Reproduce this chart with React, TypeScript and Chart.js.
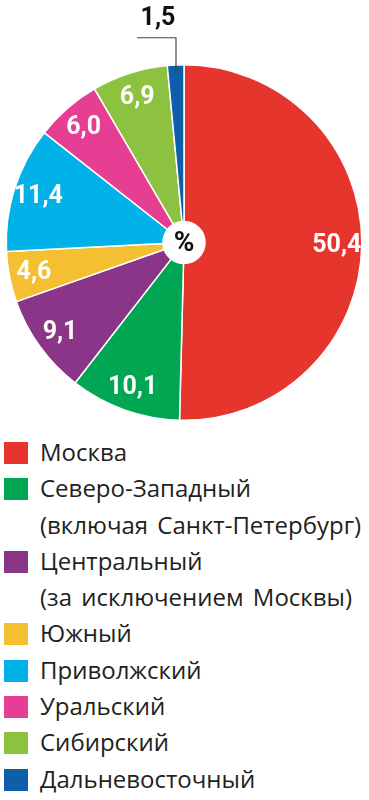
import React, { useEffect, useRef } from "react";
import { Chart, registerables } from "chart.js";

Chart.register(...registerables);

// ---- Data ----
const categories = [
  "Москва",
  "Северо-Западный (включая Санкт-Петербург)",
  "Центральный (за исключением Москвы)",
  "Южный",
  "Приволжский",
  "Уральский",
  "Сибирский",
  "Дальневосточный",
];
const legendLines: string[][] = [
  ["Москва"],
  ["Северо-Западный", "(включая Санкт-Петербург)"],
  ["Центральный", "(за исключением Москвы)"],
  ["Южный"],
  ["Приволжский"],
  ["Уральский"],
  ["Сибирский"],
  ["Дальневосточный"],
];
const values = [50.4, 10.1, 9.1, 4.6, 11.4, 6.0, 6.9, 1.5];
const colors = [
  "#e5352d",
  "#00a651",
  "#8b3589",
  "#f5bf32",
  "#00b2e8",
  "#e63e92",
  "#8dc241",
  "#0e5fa9",
];
const outsideLabels = [7];
const centerLabel = "%";

const fmt = (v: number) => v.toFixed(1).replace(".", ",");

const labelPlugin = {
  id: "sliceLabels",
  afterDatasetsDraw(chart: any) {
    const ctx = chart.ctx as CanvasRenderingContext2D;
    const meta = chart.getDatasetMeta(0);
    ctx.save();
    ctx.textAlign = "center";
    ctx.textBaseline = "middle";
    ctx.font = "bold 25px Roboto";
    let cx = 0,
      cy = 0;
    meta.data.forEach((arc: any, i: number) => {
      const p = arc.getProps(["x", "y", "startAngle", "endAngle", "outerRadius"], true);
      cx = p.x;
      cy = p.y;
      const mid = (p.startAngle + p.endAngle) / 2;
      const text = fmt(values[i]);
      if (outsideLabels.includes(i)) {
        const r0 = p.outerRadius - 8;
        const px = p.x + Math.cos(mid) * r0;
        const py = p.y + Math.sin(mid) * r0;
        const elbowY = p.y - p.outerRadius - 27;
        ctx.strokeStyle = "#444";
        ctx.lineWidth = 1.2;
        ctx.beginPath();
        ctx.moveTo(px, py);
        ctx.lineTo(px, elbowY);
        ctx.lineTo(px - 39, elbowY);
        ctx.stroke();
        ctx.fillStyle = "#111";
        ctx.fillText(text, px - 18, elbowY - 19);
      } else {
        const r = p.outerRadius * 0.86;
        ctx.fillStyle = "#ffffff";
        ctx.fillText(text, p.x + Math.cos(mid) * r, p.y + Math.sin(mid) * r + 1);
      }
    });
    ctx.fillStyle = "#111";
    ctx.font = "bold 28px Roboto";
    ctx.fillText(centerLabel, cx, cy + 1);
    ctx.restore();
  },
};

export default function App() {
  const canvasRef = useRef<HTMLCanvasElement>(null);

  useEffect(() => {
    if (!canvasRef.current) return;
    const chart = new Chart(canvasRef.current, {
      type: "doughnut",
      data: {
        labels: categories,
        datasets: [
          {
            data: values,
            backgroundColor: colors,
            borderColor: "#ffffff",
            borderWidth: 1.5,
          },
        ],
      },
      options: {
        animation: false,
        responsive: false,
        maintainAspectRatio: false,
        cutout: 21,
        layout: { padding: { left: 5.5, right: 6.5, top: 64, bottom: 9 } },
        plugins: {
          legend: { display: false },
          tooltip: { enabled: false },
        },
      },
      plugins: [labelPlugin],
    });
    return () => chart.destroy();
  }, []);

  return (
    <div
      style={{
        position: "absolute",
        left: 0,
        top: 0,
        width: 369,
        height: 800,
        background: "#ffffff",
        overflow: "hidden",
      }}
    >
      <canvas ref={canvasRef} width={369} height={430} style={{ display: "block" }} />
      <div
        style={{
          position: "absolute",
          left: 0,
          top: 434,
          width: 369,
          fontFamily: "'Open Sans', sans-serif",
          fontSize: 24,
          lineHeight: "36.3px",
          wordSpacing: 3,
          color: "#231f20",
        }}
      >
        {legendLines.map((lines, i) => (
          <div key={i} style={{ position: "relative", paddingLeft: 40 }}>
            <div
              style={{
                position: "absolute",
                left: 4,
                top: 8,
                width: 24,
                height: 22,
                background: colors[i],
              }}
            />
            {lines.map((l, j) => (
              <div key={j} style={{ whiteSpace: "nowrap" }}>
                {l}
              </div>
            ))}
          </div>
        ))}
      </div>
    </div>
  );
}
